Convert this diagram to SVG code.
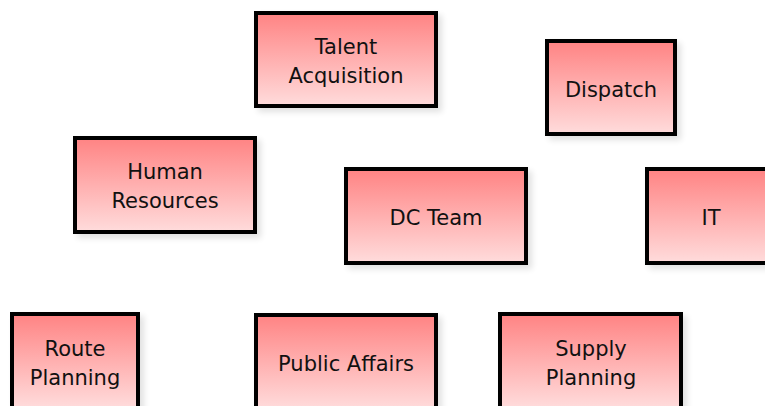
<svg xmlns="http://www.w3.org/2000/svg" width="765" height="406" viewBox="0 0 765 406">
  <defs>
    <linearGradient id="boxFill" x1="0" y1="0" x2="0" y2="1">
      <stop offset="0" stop-color="#ff8383"/>
      <stop offset="1" stop-color="#ffdcdc"/>
    </linearGradient>
    <filter id="softShadow" x="-10%" y="-10%" width="130%" height="130%">
      <feGaussianBlur in="SourceAlpha" stdDeviation="3"/>
      <feOffset dx="4" dy="4" result="b"/>
      <feComponentTransfer><feFuncA type="linear" slope="0.12"/></feComponentTransfer>
      <feMerge><feMergeNode/><feMergeNode in="SourceGraphic"/></feMerge>
    </filter>
  </defs>
  <style>
    .box { fill: url(#boxFill); stroke: #000; stroke-width: 4; filter: url(#softShadow); }
    .lbl { font-family: "DejaVu Sans", "Verdana", sans-serif; font-size: 21px; fill: #111; text-anchor: middle; }
  </style>
  <rect width="765" height="406" fill="#fff"/>

  <g id="connectors"></g>

  <g id="talent-acquisition">
    <rect class="box" x="256" y="13" width="180" height="93"/>
    <text class="lbl" x="346" y="54">Talent</text>
    <text class="lbl" x="346" y="83">Acquisition</text>
  </g>

  <g id="dispatch">
    <rect class="box" x="547" y="41" width="128" height="93"/>
    <text class="lbl" x="611" y="97">Dispatch</text>
  </g>

  <g id="human-resources">
    <rect class="box" x="75" y="138" width="180" height="94"/>
    <text class="lbl" x="165" y="179">Human</text>
    <text class="lbl" x="165" y="208">Resources</text>
  </g>

  <g id="dc-team">
    <rect class="box" x="346" y="169" width="180" height="94"/>
    <text class="lbl" x="436" y="225">DC Team</text>
  </g>

  <g id="it">
    <rect class="box" x="647" y="169" width="180" height="94"/>
    <text class="lbl" x="711" y="225">IT</text>
  </g>

  <g id="route-planning">
    <rect class="box" x="12" y="314" width="126" height="94"/>
    <text class="lbl" x="75" y="356">Route</text>
    <text class="lbl" x="75" y="385">Planning</text>
  </g>

  <g id="public-affairs">
    <rect class="box" x="256" y="315" width="180" height="94"/>
    <text class="lbl" x="346" y="371">Public Affairs</text>
  </g>

  <g id="supply-planning">
    <rect class="box" x="500" y="314" width="181" height="94"/>
    <text class="lbl" x="591" y="356">Supply</text>
    <text class="lbl" x="591" y="385">Planning</text>
  </g>
</svg>
